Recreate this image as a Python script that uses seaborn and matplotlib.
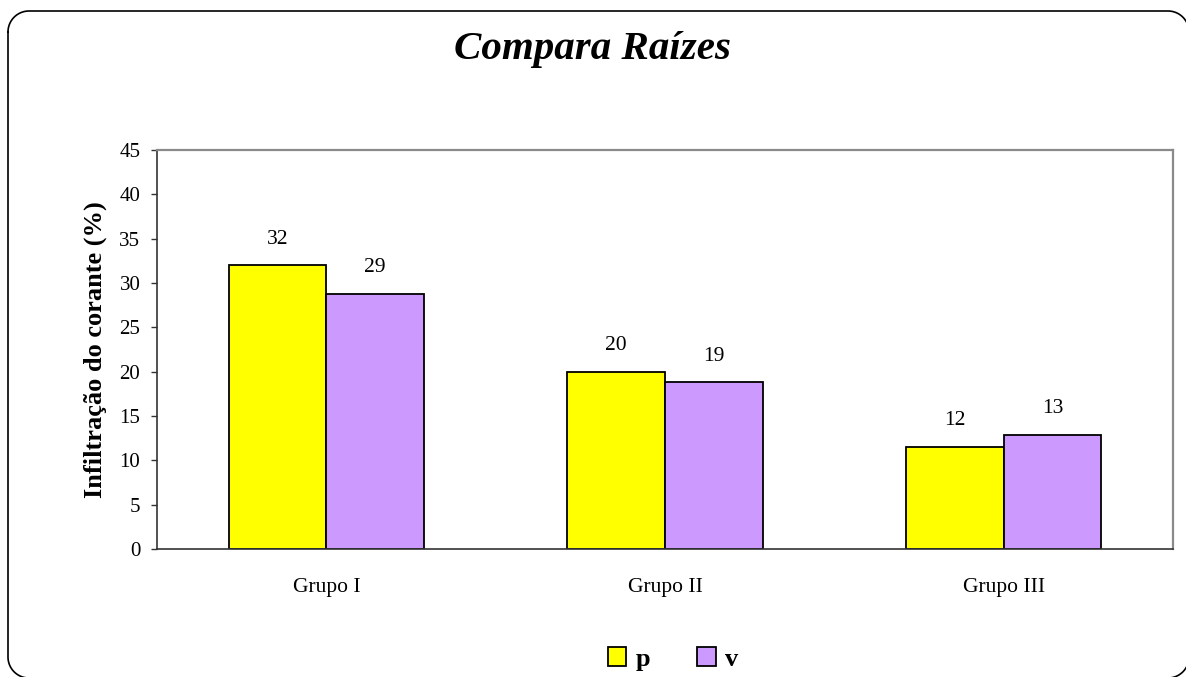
import matplotlib
matplotlib.use("Agg")
import matplotlib.pyplot as plt
from matplotlib.patches import Patch
import numpy as np
import seaborn as sns
import pandas as pd

# Chart data
grupos = ["Grupo I", "Grupo II", "Grupo III"]
series = ["p", "v"]
valores_p = [32.0, 20.0, 11.5]
valores_v = [28.8, 18.8, 12.9]
cores = ["#FFFF00", "#CC99FF"]
yticks = [0, 5, 10, 15, 20, 25, 30, 35, 40, 45]

df = pd.DataFrame({
    "grupo": grupos * 2,
    "serie": ["p"] * 3 + ["v"] * 3,
    "valor": valores_p + valores_v,
})

sns.set_theme(style="white")
plt.rcParams["font.family"] = ["Liberation Serif", "DejaVu Serif"]
for key in ["text.color", "axes.labelcolor", "xtick.color", "ytick.color"]:
    plt.rcParams[key] = "black"

W, H = 1186, 677
fig = plt.figure(figsize=(W / 100, H / 100), dpi=100)
fig.patch.set_facecolor("white")

# plot area in pixel terms
x0, x1, ytop, ybot = 157, 1173, 150, 549
ax = fig.add_axes([x0 / W, (H - ybot) / H, (x1 - x0) / W, (ybot - ytop) / H])

sns.barplot(data=df, x="grupo", y="valor", hue="serie", hue_order=series,
            palette=cores, width=0.576, gap=0, edgecolor="black",
            linewidth=1.3, saturation=1, ax=ax, legend=False)

ax.set_ylim(0, 45)
ax.set_xlim(-0.5, 2.5)
ax.set_yticks(yticks)
ax.set_yticklabels([str(t) for t in yticks], fontsize=15)
ax.set_xlabel("")
ax.set_ylabel("Infiltração do corante (%)", fontsize=19, fontweight="bold", labelpad=9)

# category labels centred, ticks on category boundaries
ax.set_xticks([0, 1, 2])
ax.set_xticklabels(grupos, fontsize=15.5)
ax.tick_params(axis="x", which="major", length=0, pad=21)
ax.set_xticks([-0.5, 0.5, 1.5, 2.5], minor=True)
ax.tick_params(axis="x", which="minor", length=6, width=1, color="#333333", direction="out")
ax.tick_params(axis="y", length=4, width=1, color="#333333", direction="out", pad=8, left=True)

for side in ["left", "bottom"]:
    ax.spines[side].set_color("#333333")
    ax.spines[side].set_linewidth(1.2)
for side in ["top", "right"]:
    ax.spines[side].set_color("#8a8a8a")
    ax.spines[side].set_linewidth(1.6)
ax.grid(False)

# value labels above each bar
for cont in ax.containers:
    labels = [str(int(b.get_height() + 0.5)) for b in cont]
    ax.bar_label(cont, labels=labels, padding=12, fontsize=15.5)

# title
fig.text(0.5, (H - 50) / H, "Compara Raízes", ha="center", va="center",
         fontsize=29.5, fontweight="bold", fontstyle="italic")

# legend
handles = [Patch(facecolor=c, edgecolor="black", linewidth=1.3, label=s)
           for c, s in zip(cores, series)]
fig.legend(handles=handles, loc="center", bbox_to_anchor=(673 / W, (H - 659) / H),
           ncol=2, frameon=False, handlelength=0.7, handleheight=0.7,
           handletextpad=0.35, columnspacing=1.8,
           prop={"family": "Liberation Serif", "weight": "bold", "size": 19})

# rounded outer frame, drawn on a full-figure overlay in pixel units (y downwards)
ov = fig.add_axes([0, 0, 1, 1], zorder=10)
ov.set_xlim(0, W)
ov.set_ylim(H, 0)
ov.axis("off")
ov.patch.set_alpha(0)

fl, fr, ft, fb, r = 8, 1189, 11, 678, 21
t = np.linspace(0, np.pi / 2, 30)
xs, ys = [], []
# top-left, top-right, bottom-right, bottom-left corners
for cx, cy, a0 in [(fl + r, ft + r, np.pi), (fr - r, ft + r, 1.5 * np.pi),
                   (fr - r, fb - r, 0.0), (fl + r, fb - r, 0.5 * np.pi)]:
    ang = a0 + t
    xs.extend(cx + r * np.cos(ang))
    ys.extend(cy + r * np.sin(ang))
xs.append(xs[0])
ys.append(ys[0])
ov.plot(xs, ys, color="black", linewidth=1.2, clip_on=False, solid_joinstyle="round")

fig.savefig("out.png", dpi=100)
